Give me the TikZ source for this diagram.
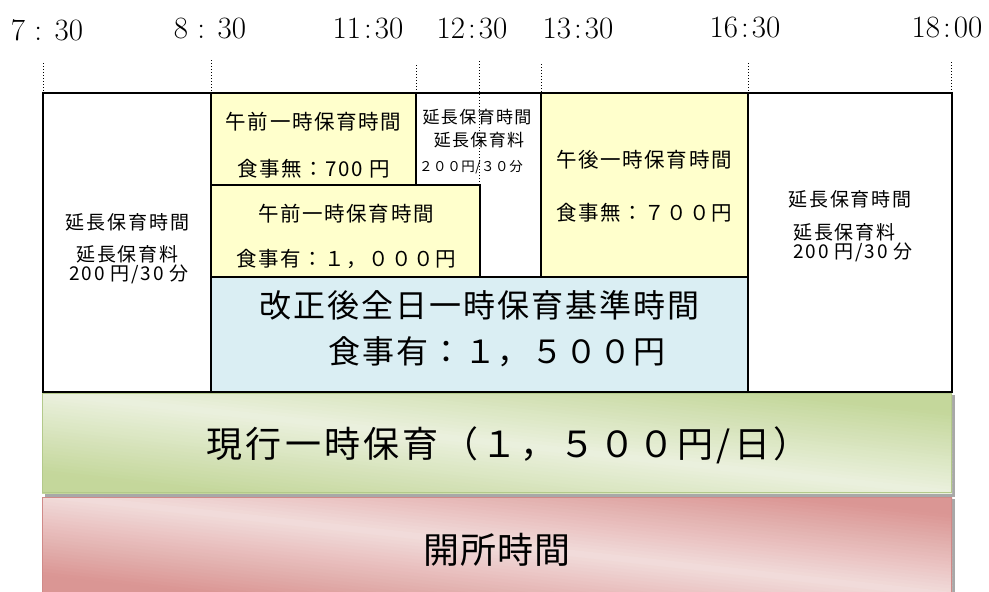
\documentclass[tikz,border=0pt]{standalone}
\usepackage{fontspec}
\newfontfamily\jp{Noto Sans CJK JP}
\definecolor{yel}{HTML}{FFFFCC}
\definecolor{blu}{HTML}{DAEEF3}
\definecolor{gdark}{HTML}{C4D79B}
\definecolor{glight}{HTML}{EBF1DE}
\definecolor{gline}{HTML}{B3C98A}
\definecolor{rdark}{HTML}{DA9694}
\definecolor{rlight}{HTML}{F2DCDB}
\definecolor{rline}{HTML}{D08A88}
\definecolor{shad}{HTML}{A8A8A8}
\newcommand{\jpf}[2]{\jp\addfontfeature{LetterSpace=#2}\fontsize{#1}{#1}\selectfont}
\newcommand{\gap}{\hspace{0.3em}}
% diagonal band gradient drawn in strips: #1 light, #2 dark, #3 centre x, #4 centre y
\newcommand{\bandfill}[4]{%
  \foreach \i in {0,...,59}{%
    \pgfmathsetmacro{\ya}{-100+\i*200/60}%
    \pgfmathsetmacro{\yb}{\ya+200/60+0.8}%
    \pgfmathsetmacro{\pc}{100*(1-min(1,abs(\ya+100/60)/80))}%
    \fill[#1!\pc!#2, rotate around={-6.3:(#3,#4)}] (#3-520,#4+\ya) rectangle (#3+520,#4+\yb);
  }}
\begin{document}
\begin{tikzpicture}[x=1pt,y=-1pt,
  box/.style={draw=black, line width=1.3pt},
  guide/.style={dotted, line width=1pt},
  tl/.style={font=\fontsize{31}{31}\selectfont, anchor=base, inner sep=0pt},
  jt/.style={font=\jpf{20.5}{8}, inner sep=0pt},
  jl/.style={font=\jpf{19}{10}, inner sep=0pt},
  jm/.style={font=\jpf{17}{8}, inner sep=0pt},
  js/.style={font=\jpf{13.5}{4}, inner sep=0pt},
  jb/.style={font=\jpf{32}{6}, inner sep=0pt},
  jg/.style={font=\jpf{36}{9}, inner sep=0pt},
  jh/.style={font=\jpf{36}{2}, inner sep=0pt}]
\useasboundingbox (0,0) rectangle (989,592);
% time labels
\node[tl] (t1) at (47,40) {7 : 30};
\node[tl] (t2) at (210,38) {8 : 30};
\node[tl] (t3) at (368,38) {11\kern0.1em:\kern0.1em30};
\node[tl] (t4) at (472,38) {12\kern0.1em:\kern0.1em30};
\node[tl] (t5) at (578,38) {13\kern0.1em:\kern0.1em30};
\node[tl] (t6) at (745,37) {16\kern0.1em:\kern0.1em30};
\node[tl] (t7) at (947,37) {18\kern0.1em:\kern0.1em00};
% outer frame and boxes
\draw[box, fill=white] (43,93) rectangle (952,392);
\draw[box, fill=yel] (211,93) rectangle (416,185);
\draw[box, fill=yel] (211,185) rectangle (480,277);
\draw[box, fill=yel] (541,93) rectangle (748,277);
\draw[box, fill=blu] (211,277) rectangle (748,392);
\draw[box] (43,93) rectangle (211,392);
\draw[box] (748,93) rectangle (952,392);
% guides
\draw[guide] (43,63) -- (43,93);
\draw[guide] (211,60) -- (211,93);
\draw[guide] (416,65) -- (416,93);
\draw[guide] (479,61) -- (479,185);
\draw[guide] (541,64) -- (541,277);
\draw[guide] (748,63) -- (748,93);
\draw[guide] (951,62) -- (951,93);
% bars
\fill[shad] (45,395) rectangle (955,497);
\begin{scope}
  \clip (42,393) rectangle (952,493);
  \bandfill{glight}{gdark}{497}{443}
\end{scope}
\draw[gline, line width=0.8pt] (42.5,393.5) rectangle (951.5,492.5);
\fill[shad] (45,499) rectangle (955,592);
\begin{scope}
  \clip (42,497) rectangle (952,592);
  \bandfill{rlight}{rdark}{497}{545}
\end{scope}
\draw[rline, line width=0.8pt] (42.5,592) -- (42.5,497.5) -- (951.5,497.5) -- (951.5,592);
% texts
\node[jt] (a1) at (313.5,122) {午前一時保育時間};
\node[jt] (a2) at (313.5,169) {食事無：700\gap 円};
\node[jm] (m1) at (477,117.5) {延長保育時間};
\node[jm] (m2) at (479,140) {延長保育料};
\node[js] (m3) at (471,167) {２００円/３０分};
\node[jt] (b1) at (346,213.5) {午前一時保育時間};
\node[jt] (b2) at (346,259) {食事有：１，０００円};
\node[jt] (p1) at (644,160) {午後一時保育時間};
\node[jt] (p2) at (644,213) {食事無：７００円};
\node[jl] (l1) at (127.5,222.5) {延長保育時間};
\node[jl] (l2) at (127.5,254) {延長保育料};
\node[jl] (l3) at (129,274) {200\gap 円/30\gap 分};
\node[jl] (r1) at (850,199.5) {延長保育時間};
\node[jl, anchor=west] (r2) at (793,232) {延長保育料};
\node[jl, anchor=west] (r3) at (793,252) {200\gap 円/30\gap 分};
\node[jb] (c1) at (479.5,305) {改正後全日一時保育基準時間};
\node[jb] (c2) at (497,352) {食事有：１，５００円};
\node[jg] (g1) at (508,445) {現行一時保育（１，５００円/日）};
\node[jh] (h1) at (497,550) {開所時間};
\end{tikzpicture}
\end{document}
